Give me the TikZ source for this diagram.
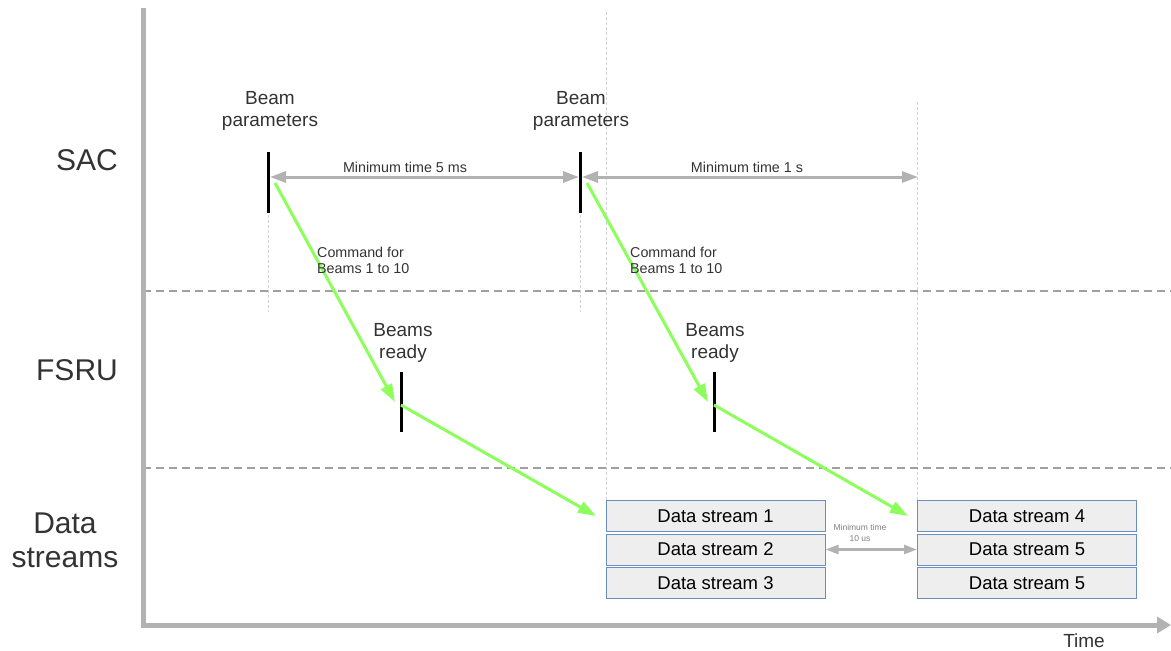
\documentclass[tikz,border=0pt]{standalone}
\usepackage{fontspec}
\setmainfont{Liberation Sans}
\usetikzlibrary{arrows.meta}
\definecolor{axisgray}{RGB}{178,178,178}
\definecolor{txt}{RGB}{51,51,51}
\definecolor{grn}{RGB}{140,255,90}
\definecolor{boxfill}{RGB}{238,238,238}
\definecolor{boxline}{RGB}{108,142,191}
\definecolor{thin}{RGB}{210,210,210}
\tikzset{
  axis/.style={draw=axisgray,line width=5pt},
  lane/.style={draw=axisgray!90!black,line width=2pt,dash pattern=on 8pt off 5pt},
  guide/.style={draw=thin,line width=0.8pt,dash pattern=on 3pt off 2pt},
  bar/.style={draw=black,line width=3pt},
  span/.style={draw=axisgray,line width=3pt,{Triangle[length=16pt,width=11pt]}-{Triangle[length=16pt,width=11pt]}},
  cmd/.style={draw=grn,line width=3pt,-{Triangle[length=18pt,width=12pt]}},
  lbl/.style={text=txt,font=\fontsize{19}{22}\selectfont,align=center,inner sep=0pt},
  big/.style={text=txt,font=\fontsize{30}{34}\selectfont,align=center,inner sep=0pt},
  small/.style={text=txt,font=\fontsize{14.3}{16}\selectfont,align=left,inner sep=0pt},
  tiny/.style={text=gray,font=\fontsize{8.5}{11}\selectfont,align=center,inner sep=0pt},
  ds/.style={draw=boxline,fill=boxfill,line width=1pt,minimum width=219pt,minimum height=31pt,inner sep=0pt,text=black,font=\fontsize{18.5}{20}\selectfont}
}
\begin{document}
\begin{tikzpicture}[x=1pt,y=-1pt]
\useasboundingbox (0,0) rectangle (1171,651);
% guides
\coordinate (g1a) at (268,215); \coordinate (g1b) at (268,312);
\coordinate (g2a) at (580,215); \coordinate (g2b) at (580,312);
\coordinate (g3a) at (606,12); \coordinate (g3b) at (606,500);
\coordinate (g4a) at (917,102); \coordinate (g4b) at (917,500);
\draw[guide] (g1a) -- (g1b);
\draw[guide] (g2a) -- (g2b);
\draw[guide] (g3a) -- (g3b);
\draw[guide] (g4a) -- (g4b);
% lanes
\coordinate (l1a) at (143,291); \coordinate (l1b) at (1171,291);
\coordinate (l2a) at (143,468); \coordinate (l2b) at (1171,468);
\draw[lane] (l1a) -- (l1b);
\draw[lane] (l2a) -- (l2b);
% axes
\coordinate (top) at (143,8);
\coordinate (orig) at (143,625);
\coordinate (tend) at (1171,625);
\draw[axis,-{Triangle[length=14pt,width=16pt]}] (top) -- (orig) -- (tend);
\node[lbl] (time) at (1084,641) {Time};
% lane labels
\node[big] (sac) at (87,160) {SAC};
\node[big] (fsru) at (77,370) {FSRU};
\node[big] (dstr) at (65,540) {Data\\streams};
% bars
\coordinate (b1t) at (268,152); \coordinate (b1b) at (268,213);
\coordinate (b2t) at (580,152); \coordinate (b2b) at (580,213);
\coordinate (r1t) at (401,372); \coordinate (r1b) at (401,432);
\coordinate (r2t) at (714,372); \coordinate (r2b) at (714,432);
\draw[bar] (b1t) -- (b1b);
\draw[bar] (b2t) -- (b2b);
\draw[bar] (r1t) -- (r1b);
\draw[bar] (r2t) -- (r2b);
\node[lbl] (bp1) at (270,111) {Beam\\parameters};
\node[lbl] (bp2) at (581,111) {Beam\\parameters};
\node[lbl] (br1) at (403,343) {Beams\\ready};
\node[lbl] (br2) at (715,343) {Beams\\ready};
% spans
\coordinate (s1a) at (270,177); \coordinate (s1b) at (579,177);
\coordinate (s2a) at (582,177); \coordinate (s2b) at (918,177);
\draw[span] (s1a) -- (s1b);
\draw[span] (s2a) -- (s2b);
\node[small] (m1) at (405,167) {Minimum time 5 ms};
\node[small] (m2) at (747,167) {Minimum time 1 s};
% data streams
\node[ds] (d1) at (715.5,516) {Data stream 1};
\node[ds] (d2) at (715.5,549.5) {Data stream 2};
\node[ds] (d3) at (715.5,583) {Data stream 3};
\node[ds] (d4) at (1027,516) {Data stream 4};
\node[ds] (d5) at (1027,549.5) {Data stream 5};
\node[ds] (d6) at (1027,583) {Data stream 5};
\draw[span,line width=2.5pt,{Triangle[length=13pt,width=9pt]}-{Triangle[length=13pt,width=9pt]}] (d2.east) -- (d5.west);
\node[tiny] (m3) at (860,533) {Minimum time\\10 us};
% commands
\coordinate (c1a) at (275,183); \coordinate (c1b) at (395,402);
\coordinate (c2a) at (587,183); \coordinate (c2b) at (708,402);
\draw[cmd] (c1a) -- (c1b);
\draw[cmd] (c2a) -- (c2b);
\node[small,anchor=west] (cf1) at (317,260) {Command for\\Beams 1 to 10};
\node[small,anchor=west] (cf2) at (630,260) {Command for\\Beams 1 to 10};
\coordinate (e1a) at (401,405); \coordinate (e1b) at (596,516);
\coordinate (e2a) at (714,405); \coordinate (e2b) at (908,516);
\draw[cmd] (e1a) -- (e1b);
\draw[cmd] (e2a) -- (e2b);
\end{tikzpicture}
\end{document}
